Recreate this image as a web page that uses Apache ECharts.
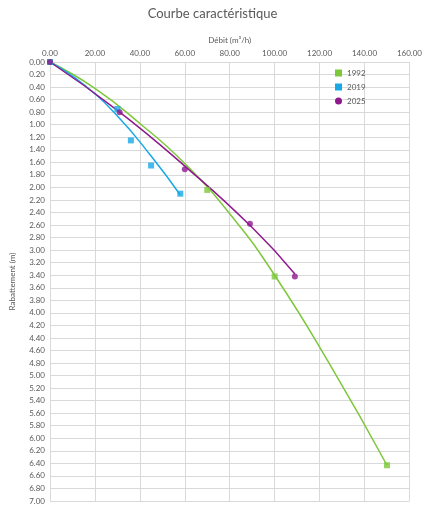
<!DOCTYPE html>
<html><head><meta charset="utf-8">
<script src="https://cdn.jsdelivr.net/npm/echarts@6/dist/echarts.min.js"></script>
<style>html,body{margin:0;padding:0;background:#fff}#c{width:425px;height:512px}</style>
</head><body><div id="c"></div>
<script>
const pts1992 = [[0,0],[70,2.04],[100,3.42],[150,6.43]];
const pts2019 = [[0,0],[30,0.75],[36,1.25],[45,1.65],[58,2.1]];
const pts2025 = [[0,0],[31,0.8],[60,1.71],[89,2.58],[109,3.42]];
const trend1992 = [[0,0],[20,0.42],[40,0.98],[60,1.62],[80,2.42],[100,3.4],[125,4.85],[150,6.43]];
const trend2019 = [[0,0],[15,0.36],[30,0.86],[45,1.5],[58,2.12]];
const trend2025 = [[0,0],[30,0.77],[60,1.66],[90,2.64],[109,3.38]];
const cG='#7dc83a', cB='#17a9e6', cP='#8e1a8e';
const font='Lato';
const chart = echarts.init(document.getElementById('c'));
chart.setOption({
  animation:false,
  textStyle:{fontFamily:font},
  title:{text:'Courbe caractéristique',left:'center',top:2,textStyle:{fontSize:13,fontWeight:'normal',color:'#595959',fontFamily:font}},
  grid:{left:44,right:10,top:62,bottom:11},
  legend:{orient:'vertical',left:330,top:64,itemGap:6,itemWidth:7,itemHeight:7,textStyle:{fontSize:8,color:'#595959'},
    data:[{name:'1992',icon:'rect'},{name:'2019',icon:'rect'},{name:'2025',icon:'circle'}]},
  xAxis:{type:'value',position:'top',min:0,max:160,interval:20,name:'Débit (m³/h)',nameLocation:'middle',nameGap:14,
    nameTextStyle:{fontSize:8,color:'#595959'},
    axisLabel:{fontSize:8,color:'#595959',formatter:v=>v.toFixed(2),margin:5},
    axisLine:{show:true,lineStyle:{color:'#d9d9d9'}},axisTick:{show:false},
    splitLine:{lineStyle:{color:'#d9d9d9'}}},
  yAxis:{type:'value',inverse:true,min:0,max:7,interval:0.2,name:'Rabattement (m)',nameLocation:'middle',nameGap:34,
    nameTextStyle:{fontSize:8,color:'#595959'},
    axisLabel:{fontSize:8,color:'#595959',formatter:v=>v.toFixed(2),margin:5},
    axisLine:{show:true,lineStyle:{color:'#d9d9d9'}},axisTick:{show:false},
    splitLine:{lineStyle:{color:'#d9d9d9'}}},
  series:[
    {name:'1992',type:'line',data:trend1992,smooth:true,showSymbol:false,lineStyle:{color:cG,width:1.5},itemStyle:{color:cG},z:2},
    {name:'2019',type:'line',data:trend2019,smooth:true,showSymbol:false,lineStyle:{color:cB,width:1.5},itemStyle:{color:cB},z:2},
    {name:'2025',type:'line',data:trend2025,smooth:true,showSymbol:false,lineStyle:{color:cP,width:1.5},itemStyle:{color:cP},z:2},
    {name:'1992',type:'scatter',data:pts1992,symbol:'rect',symbolSize:6,itemStyle:{color:cG},z:3},
    {name:'2019',type:'scatter',data:pts2019,symbol:'rect',symbolSize:6,itemStyle:{color:cB},z:3},
    {name:'2025',type:'scatter',data:pts2025,symbol:'circle',symbolSize:6,itemStyle:{color:cP},z:4}
  ]
});
</script></body></html>
